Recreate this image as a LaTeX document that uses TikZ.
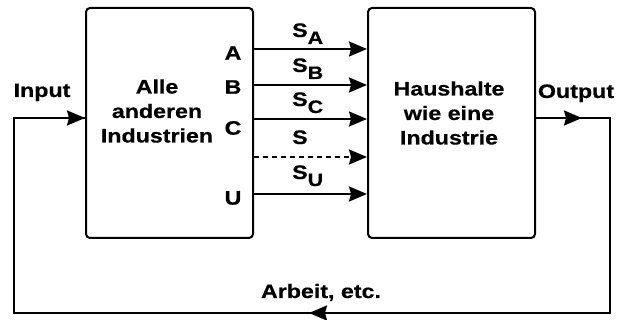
\documentclass[tikz,border=0pt]{standalone}
\usepackage{fontspec}
\setmainfont{Liberation Sans}[FakeStretch=1.19, BoldFeatures={FakeBold=0.6}]
\usetikzlibrary{arrows.meta}
\newcommand{\subx}[1]{\raisebox{-7pt}{\fontsize{18}{18}\selectfont #1}}
\begin{document}
\begin{tikzpicture}[x=1pt,y=-1pt,
  box/.style={draw, line width=2pt, rounded corners=4pt, minimum width=167pt, minimum height=230pt, inner sep=0pt},
  lbl/.style={font=\bfseries\fontsize{19.5}{24.5}\selectfont, inner sep=0pt, align=center},
  flow/.style={line width=2pt, -{Stealth[length=18pt,width=15pt,inset=2pt]}},
  plain/.style={line width=2pt}]
\useasboundingbox (0,0) rectangle (618,320);
\fill[white] (0,0) rectangle (618,320);
\node[box] (L) at (169.5,123) {};
\node[box] (R) at (451.5,123) {};
\node[lbl] (Lt) at (157,111) {Alle\\anderen\\Industrien};
\node[lbl] (Rt) at (449,113) {Haushalte\\wie eine\\Industrie};
% port letters
\node[lbl] (pA) at (233,53) {A};
\node[lbl] (pB) at (233,87) {B};
\node[lbl] (pC) at (233,128) {C};
\node[lbl] (pU) at (233,198) {U};
% flow labels
\node[lbl, anchor=base west] (sA) at (292,37) {S\subx{A}};
\node[lbl, anchor=base west] (sB) at (292,72) {S\subx{B}};
\node[lbl, anchor=base west] (sC) at (292,106) {S\subx{C}};
\node[lbl, anchor=base west] (sS) at (292,144) {S};
\node[lbl, anchor=base west] (sU) at (292,179) {S\subx{U}};
% flows
\draw[flow] (L.east |- 0,49) -- (R.west |- 0,49);
\draw[flow] (L.east |- 0,85) -- (R.west |- 0,85);
\draw[flow] (L.east |- 0,119) -- (R.west |- 0,119);
\draw[flow, dash pattern=on 5pt off 4pt] (L.east |- 0,157) -- (R.west |- 0,157);
\draw[flow] (L.east |- 0,194) -- (R.west |- 0,194);
% feedback loop
\coordinate (o1) at (610,118);
\coordinate (o2) at (610,313);
\coordinate (i2) at (14,313);
\coordinate (i1) at (14,118);
\coordinate (oa) at (582,118);
\coordinate (ba) at (309,313);
\draw[plain] (R.east |- o1) -- (o1) -- (o2) -- (i2) -- (i1) -- (L.west |- i1);
\draw[flow] (R.east |- o1) -- (oa);
\draw[flow] (o2) -- (ba);
\draw[flow] (i1) -- (L.west |- i1);
\node[lbl, anchor=base] (in) at (42,97) {Input};
\node[lbl, anchor=base] (out) at (576,98) {Output};
\node[lbl, anchor=base] (arb) at (321,298) {Arbeit, etc.};
\end{tikzpicture}
\end{document}
